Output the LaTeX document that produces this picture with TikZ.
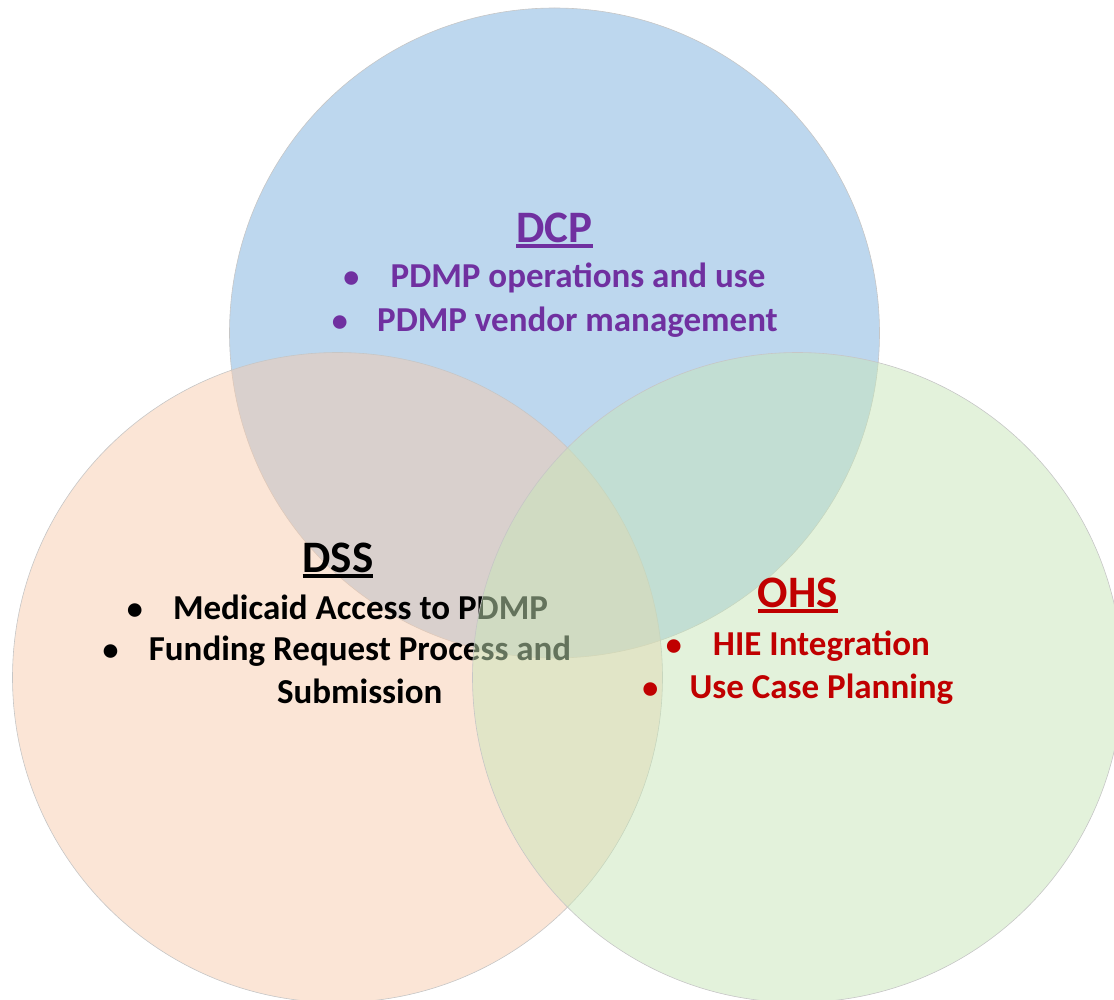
\documentclass[tikz,border=0pt]{standalone}
\usepackage{fontspec}
\setmainfont{Carlito}

\definecolor{dcpblue}{RGB}{123,175,221}
\definecolor{dssorange}{RGB}{247,203,173}
\definecolor{ohsgreen}{RGB}{200,230,184}
\definecolor{dcppurple}{RGB}{112,48,160}
\definecolor{ohsred}{RGB}{192,0,0}

% underlined group heading
\newsavebox\headbox
\newcommand{\ulhead}[1]{\sbox\headbox{#1}\rlap{\rule[-5pt]{\wd\headbox}{4pt}}\usebox\headbox}

\tikzset{
  venn/.style={draw=gray!45, line width=0.6pt, fill opacity=0.5},
  head/.style={font=\fontsize{45}{54}\selectfont\bfseries, anchor=base, inner sep=0pt},
  item/.style={font=\fontsize{35}{42}\selectfont\bfseries, anchor=base, inner sep=0pt},
  dot/.style={font=\fontsize{32}{38}\selectfont\bfseries, anchor=base, inner sep=0pt}
}

\begin{document}
\begin{tikzpicture}[x=1pt,y=-1pt]
            \useasboundingbox (0,0) rectangle (1114,1000);
            \clip (0,0) rectangle (1114,1000);

            % the three circles, DSS text goes under the green one
            \draw[venn, fill=dcpblue] (554.5,333) circle (325pt);
            \draw[venn, fill=dssorange] (337.5,677.5) circle (325pt);

            \node (dssHead) [head] at (338,572.5) {\ulhead{DSS}};
            \node (dssItemA) [item] at (360.5,619) {Medicaid Access to PDMP};
            \node (dssDotA) [dot] at ([xshift=-38pt]dssItemA.base west) {\textbullet};
            \node (dssItemB) [item] at (360,660) {Funding Request Process and};
            \node (dssDotB) [dot] at ([xshift=-38pt]dssItemB.base west) {\textbullet};
            \node (dssItemC) [item] at (359.7,703.5) {Submission};

            \draw[venn, fill=ohsgreen] (797.5,677.5) circle (325pt);

            % DCP
            \node (dcpHead) [head, text=dcppurple] at (554.5,242.7) {\ulhead{DCP}};
            \node (dcpItemA) [item, text=dcppurple] at (578,288) {PDMP operations and use};
            \node (dcpDotA) [dot, text=dcppurple] at ([xshift=-39pt]dcpItemA.base west) {\textbullet};
            \node (dcpItemB) [item, text=dcppurple] at (577.5,332) {PDMP vendor management};
            \node (dcpDotB) [dot, text=dcppurple] at ([xshift=-37pt]dcpItemB.base west) {\textbullet};

            % OHS
            \node (ohsHead) [head, text=ohsred] at (798,607.5) {\ulhead{OHS}};
            \node (ohsItemA) [item, text=ohsred] at (821.4,655.3) {HIE Integration};
            \node (ohsDotA) [dot, text=ohsred] at ([xshift=-39pt]ohsItemA.base west) {\textbullet};
            \node (ohsItemB) [item, text=ohsred] at (821.4,698.7) {Use Case Planning};
            \node (ohsDotB) [dot, text=ohsred] at ([xshift=-39pt]ohsItemB.base west) {\textbullet};

        \end{tikzpicture}
\end{document}
